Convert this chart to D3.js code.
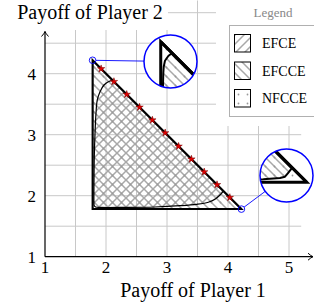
<!DOCTYPE html>
<html><head><meta charset="utf-8">
<script src="https://cdn.jsdelivr.net/npm/d3@7"></script>
<style>body{margin:0;background:#fff}svg{display:block}</style>
</head><body><svg id="c" width="314" height="305" font-family="'Liberation Serif','Times New Roman',serif"></svg>
<script>
// ---------- data ----------
const xTicks = [1, 2, 3, 4, 5];
const yTicks = [1, 2, 3, 4];
const gridValues = [1.5, 2, 2.5, 3, 3.5, 4, 4.5, 5];
const xLabel = "Payoff of Player 1";
const yLabel = "Payoff of Player 2";
const legendTitle = "Legend";
const legendLabels = ["EFCE", "EFCCE", "NFCCE"];
// NFCCE polytope (triangle)
const nfcce = [[1.78, 4.22], [1.78, 1.78], [4.22, 1.78]];
// EFCCE boundary (hugs the triangle, cuts the two acute corners)
const efcce = [[1.8025, 4.1962], [1.7955, 4.1907], [1.7887, 4.1810], [1.7861, 4.1687], [1.7852, 4.1552],
  [1.7846, 4.1312], [1.7843, 4.1004], [1.7843, 1.7855], [4.1141, 1.7855], [4.1311, 1.7861],
  [4.1585, 1.7882], [4.1653, 1.7888], [4.1755, 1.7914], [4.1817, 1.7990], [4.1893, 1.8087]];
// EFCE boundary curve (closed along the frontier)
const efce = [[2.11, 3.89], [2.038, 3.869], [1.967, 3.815], [1.902, 3.705], [1.857, 3.569], [1.836, 3.351],
  [1.820, 3.023], [1.808, 2.639], [1.803, 2.2], [1.802, 1.9], [1.806, 1.84], [1.83, 1.815], [1.9, 1.808],
  [2.3, 1.808], [2.8, 1.815], [3.213, 1.836], [3.487, 1.859], [3.677, 1.892], [3.787, 1.941],
  [3.869, 2.011], [3.925, 2.075]];
// Pareto frontier x + y = 6 with star markers
const frontier = [[1.78, 4.22], [4.22, 1.78]];
const starX = [1.92, 2.13, 2.34, 2.55, 2.76, 2.97, 3.19, 3.40, 3.61, 3.82, 4.03];
const starY = [4.08, 3.87, 3.66, 3.45, 3.24, 3.03, 2.81, 2.60, 2.39, 2.18, 1.97];
// magnifier focus points (data units)
const lensFocus = [[1.800, 4.1794], [4.1786, 1.7939]];
const lensVertex = [[1.78, 4.22], [4.22, 1.78]];

// ---------- layout ----------
const svg = d3.select("#c");
svg.append("rect").attr("width", 314).attr("height", 305).attr("fill", "#fff");
const x = d3.scaleLinear().domain([1, 5]).range([45, 289]);
const y = d3.scaleLinear().domain([1, 5]).range([256.7, 12.7]);
const gridMax = 5.2;

const defs = svg.append("defs");
function hatch(id, d) {
  const p = defs.append("pattern").attr("id", id).attr("patternUnits", "userSpaceOnUse")
    .attr("width", 9).attr("height", 9);
  p.append("path").attr("d", d).attr("stroke", "#a8a8a8").attr("stroke-width", 1.5).attr("fill", "none");
}
hatch("ne", "M-2,2 L2,-2 M0,9 L9,0 M7,11 L11,7");
hatch("nw", "M-2,7 L2,11 M0,0 L9,9 M7,-2 L11,2");
const dp = defs.append("pattern").attr("id", "dots").attr("patternUnits", "userSpaceOnUse")
  .attr("width", 9).attr("height", 9);
dp.append("circle").attr("cx", 4.5).attr("cy", 4.5).attr("r", 0.9).attr("fill", "#999");

// grid
const grid = svg.append("g").attr("stroke", "#c8c8c8").attr("stroke-width", 1);
gridValues.forEach(v => {
  grid.append("line").attr("x1", x(v)).attr("x2", x(v)).attr("y1", y(1)).attr("y2", y(gridMax));
  grid.append("line").attr("x1", x(1)).attr("x2", x(gridMax)).attr("y1", y(v)).attr("y2", y(v));
});

// scene drawing (used for main plot and for magnifiers)
function drawScene(g, sx, sy, w) {
  const poly = pts => "M" + pts.map(p => sx(p[0]) + "," + sy(p[1])).join("L") + "Z";
  const curve = d3.line().x(p => sx(p[0])).y(p => sy(p[1])).curve(d3.curveCatmullRom.alpha(0.5));
  g.append("path").attr("d", poly(efcce)).attr("fill", "url(#nw)");
  g.append("path").attr("d", curve(efce) + "Z").attr("fill", "url(#ne)");
  g.append("path").attr("d", poly(nfcce)).attr("fill", "url(#dots)");
  g.append("path").attr("d", poly(nfcce)).attr("fill", "none").attr("stroke", "#000")
    .attr("stroke-width", w.tri).attr("stroke-linejoin", "miter").attr("stroke-miterlimit", 20);
  g.append("path").attr("d", poly(efcce)).attr("fill", "none").attr("stroke", "#000")
    .attr("stroke-width", w.efcce).attr("stroke-linejoin", "round");
  g.append("path").attr("d", curve(efce)).attr("fill", "none").attr("stroke", "#000")
    .attr("stroke-width", w.efce);
  g.append("path").attr("d", d3.line().x(p => sx(p[0])).y(p => sy(p[1]))(frontier))
    .attr("stroke", "#000").attr("stroke-width", w.front).attr("fill", "none");
}
drawScene(svg.append("g"), x, y, {tri: 2, efcce: 1, efce: 1.2, front: 1.5});

// stars
svg.append("g").selectAll("path").data(starX).join("path")
  .attr("d", d3.symbol(d3.symbolStar, 17))
  .attr("transform", (d, i) => `translate(${x(d)},${y(starY[i])})`)
  .attr("fill", "#e00000").attr("stroke", "#700").attr("stroke-width", 0.5);

// axes
const ax = svg.append("g").attr("stroke", "#000").attr("fill", "none").attr("stroke-width", 1.2);
ax.append("line").attr("x1", x(1)).attr("x2", 313).attr("y1", y(1)).attr("y2", y(1));
ax.append("line").attr("x1", x(1)).attr("x2", x(1)).attr("y1", y(1)).attr("y2", 31.5);
ax.append("path").attr("d", `M${313 - 5},${y(1) - 3.5} Q${313 - 2},${y(1) - 0.8} 313,${y(1)} Q${313 - 2},${y(1) + 0.8} ${313 - 5},${y(1) + 3.5}`).attr("stroke-width", 1);
ax.append("path").attr("d", `M${x(1) - 3.5},36.5 Q${x(1) - 0.8},33.5 ${x(1)},31.5 Q${x(1) + 0.8},33.5 ${x(1) + 3.5},36.5`).attr("stroke-width", 1);

// tick labels
svg.append("g").selectAll("text").data(xTicks).join("text")
  .attr("x", d => x(d)).attr("y", 273).attr("text-anchor", "middle")
  .attr("font-size", 17).text(d => d);
svg.append("g").selectAll("text").data(yTicks).join("text")
  .attr("x", 36).attr("y", d => y(d) + 6).attr("text-anchor", "end")
  .attr("font-size", 17).text(d => d);

// axis titles
svg.append("text").attr("x", 193).attr("y", 297).attr("text-anchor", "middle")
  .attr("font-size", 20).text(xLabel);
svg.append("rect").attr("x", 10).attr("y", 0).attr("width", 158).attr("height", 30).attr("fill", "#fff");
svg.append("text").attr("x", 90).attr("y", 18.5).attr("text-anchor", "middle")
  .attr("font-size", 20).text(yLabel);

// magnifiers
const lensCenters = [[170.5, 61.5], [286.5, 175.5]];
const R = 26.5, mag = 8;
lensFocus.forEach((f, i) => {
  const c = lensCenters[i];
  const v = lensVertex[i];
  const vx = x(v[0]), vy = y(v[1]);
  const dx = c[0] - vx, dy = c[1] - vy, L = Math.hypot(dx, dy);
  svg.append("line").attr("x1", vx + dx / L * 3.3).attr("y1", vy + dy / L * 3.3)
    .attr("x2", c[0] - dx / L * R).attr("y2", c[1] - dy / L * R)
    .attr("stroke", "#0000ff").attr("stroke-width", 0.9);
  svg.append("circle").attr("cx", vx).attr("cy", vy).attr("r", 3.3)
    .attr("fill", "none").attr("stroke", "#0000ff").attr("stroke-width", 0.9);
  const id = "lens" + i;
  defs.append("clipPath").attr("id", id).append("circle").attr("cx", c[0]).attr("cy", c[1]).attr("r", R);
  const lg = svg.append("g").attr("clip-path", `url(#${id})`);
  lg.append("circle").attr("cx", c[0]).attr("cy", c[1]).attr("r", R).attr("fill", "#fff");
  const lx = d3.scaleLinear().domain([f[0], f[0] + 1]).range([c[0], c[0] + mag * (x(2) - x(1))]);
  const ly = d3.scaleLinear().domain([f[1], f[1] + 1]).range([c[1], c[1] + mag * (y(2) - y(1))]);
  drawScene(lg, lx, ly, {tri: 3, efcce: 2, efce: 2, front: 3});
  svg.append("circle").attr("cx", c[0]).attr("cy", c[1]).attr("r", R)
    .attr("fill", "none").attr("stroke", "#0000ff").attr("stroke-width", 1.5);
});

// legend
const leg = svg.append("g");
leg.append("rect").attr("x", 216).attr("y", 0).attr("width", 98).attr("height", 126).attr("fill", "#fff");
leg.append("text").attr("x", 273).attr("y", 17).attr("text-anchor", "middle")
  .attr("font-size", 13).attr("fill", "#888").text(legendTitle);
leg.append("rect").attr("x", 229.5).attr("y", 25.5).attr("width", 100).attr("height", 91)
  .attr("fill", "#fff").attr("stroke", "#b0b0b0").attr("stroke-width", 1);
const swFill = ["url(#ne)", "url(#nw)", "url(#dots)"];
legendLabels.forEach((t, i) => {
  const yy = 34 + i * 27.5;
  leg.append("rect").attr("x", 234.5).attr("y", yy + 0.5).attr("width", 16).attr("height", 17.5)
    .attr("fill", swFill[i]).attr("stroke", "#000").attr("stroke-width", 1);
  leg.append("text").attr("x", 262).attr("y", yy + 14).attr("font-size", 14).text(t);
});
</script></body></html>
